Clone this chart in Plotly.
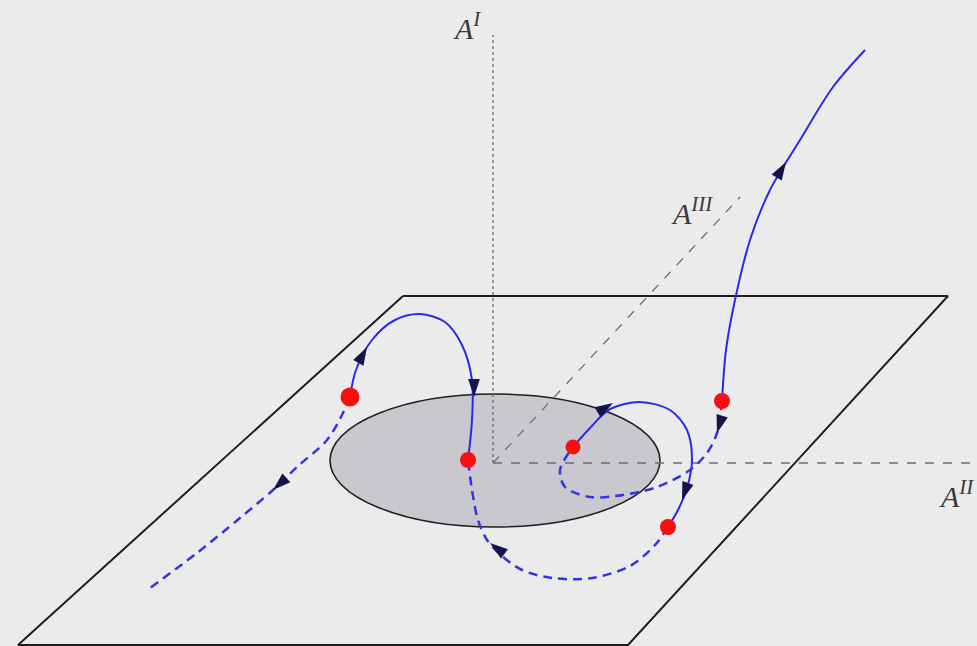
import math
import plotly.graph_objects as go

# ---- scene geometry (screen-like units, y grows downward) ----
plane_x = [403, 948, 628, 18, 403]
plane_y = [296, 296, 645, 645, 296]

disc_center = (495, 460.5)
disc_radii = (165, 66.5)

axis_origin = (493, 463)
axis_I_end = (493, 35)
axis_III_end = (740, 197)
axis_II_end = (975, 463)

# ---- trajectories ----
left_arc_x = [350, 356, 372, 395, 420, 445, 462, 472, 472, 468]
left_arc_y = [397, 370, 340, 320, 314, 322, 345, 380, 420, 460]

left_tail_x = [350, 343, 327, 297, 273, 240, 197, 150]
left_tail_y = [397, 413, 440, 467, 490, 518, 553, 588]

bottom_arc_x = [668, 655, 630, 592, 552, 522, 502, 487, 478, 472, 468]
bottom_arc_y = [527, 545, 566, 578, 578, 570, 556, 540, 520, 490, 460]

right_arc_x = [573, 590, 610, 640, 670, 687, 692, 687, 678, 668]
right_arc_y = [447, 428, 409, 402, 410, 430, 460, 488, 510, 527]

right_loop_x = [722, 717, 707, 690, 657, 623, 590, 565, 560, 573]
right_loop_y = [401, 433, 453, 470, 487, 495, 497, 487, 470, 447]

escape_x = [722, 726, 735, 750, 770, 800, 833, 865]
escape_y = [401, 350, 300, 240, 190, 140, 87, 50]

# fixed points
dots_x = [350, 468, 573, 722, 668]
dots_y = [397, 460, 447, 401, 527]
dots_size = [19, 16, 15, 16, 16]

# arrowheads: position and direction of travel
arrow_x = [367, 474, 613, 682, 717, 786, 273, 490]
arrow_y = [347, 397, 403, 500, 433, 162, 490, 543]
arrow_dx = [0.55, 0.0, 1.0, -0.35, -0.3, 0.6, -1.1, -1.0]
arrow_dy = [-1.0, 1.0, -0.6, 1.0, 1.0, -1.0, 1.0, -0.75]

SOLID = "#2a2ae8"
DASHED = "#3434e2"
HEAD = "#14144a"
AXIS = "#6e6e6e"

fig = go.Figure()

# plane
fig.add_trace(go.Scatter(x=plane_x, y=plane_y, mode="lines",
                         line=dict(color="#1e1e1e", width=2), hoverinfo="skip"))

# reference axes
ox, oy = axis_origin
fig.add_trace(go.Scatter(x=[ox, axis_I_end[0]], y=[oy, axis_I_end[1]], mode="lines",
                         line=dict(color=AXIS, width=1.3, dash="dot"), hoverinfo="skip"))
fig.add_trace(go.Scatter(x=[ox, axis_III_end[0]], y=[oy, axis_III_end[1]], mode="lines",
                         line=dict(color=AXIS, width=1.3, dash="dash"), hoverinfo="skip"))
fig.add_trace(go.Scatter(x=[ox, axis_II_end[0]], y=[oy, axis_II_end[1]], mode="lines",
                         line=dict(color=AXIS, width=1.3, dash="dash"), hoverinfo="skip"))

# trajectories
def curve(xs, ys, color, dash, width):
    fig.add_trace(go.Scatter(x=xs, y=ys, mode="lines",
                             line=dict(color=color, width=width, dash=dash,
                                       shape="spline", smoothing=0.9),
                             hoverinfo="skip"))

curve(left_arc_x, left_arc_y, SOLID, "solid", 2)
curve(right_arc_x, right_arc_y, SOLID, "solid", 2)
curve(escape_x, escape_y, SOLID, "solid", 2)
curve(left_tail_x, left_tail_y, DASHED, "9px,6px", 2.5)
curve(bottom_arc_x, bottom_arc_y, DASHED, "9px,6px", 2.5)
curve(right_loop_x, right_loop_y, DASHED, "9px,6px", 2.5)

# arrowheads
angles = [math.degrees(math.atan2(dx, -dy)) for dx, dy in zip(arrow_dx, arrow_dy)]
fig.add_trace(go.Scatter(x=arrow_x, y=arrow_y, mode="markers",
                         marker=dict(symbol="arrow", size=19, color=HEAD, angle=angles,
                                     opacity=1, line=dict(width=0)),
                         hoverinfo="skip"))

# fixed points
fig.add_trace(go.Scatter(x=dots_x, y=dots_y, mode="markers",
                         marker=dict(color="#f81010", size=dots_size, opacity=1,
                                     line=dict(width=0)),
                         hoverinfo="skip"))

cx, cy = disc_center
rx, ry = disc_radii
fig.add_shape(type="circle", xref="x", yref="y", layer="below",
              x0=cx - rx, x1=cx + rx, y0=cy - ry, y1=cy + ry,
              fillcolor="#c9c8cf", line=dict(color="#1e1e1e", width=1.6))

label_font = dict(family="Liberation Serif, DejaVu Serif, serif", size=30, color="#3a3a3a")
labels = [("<i>A</i><sup><i>I</i></sup>", 467, 26, "center"),
          ("<i>A</i><sup><i>III</i></sup>", 692, 211, "center"),
          ("<i>A</i><sup><i>II</i></sup>", 976, 494, "right")]
for text, lx, ly, anchor in labels:
    fig.add_annotation(x=lx, y=ly, xref="x", yref="y", text=text, showarrow=False,
                       font=label_font, xanchor=anchor, yanchor="middle")

fig.update_layout(
    width=977, height=646,
    margin=dict(l=0, r=0, t=0, b=0),
    paper_bgcolor="#ebebeb", plot_bgcolor="#ebebeb",
    showlegend=False,
    xaxis=dict(range=[0, 977], visible=False, fixedrange=True),
    yaxis=dict(range=[646, 0], visible=False, fixedrange=True),
)

fig.write_html("out.html")
